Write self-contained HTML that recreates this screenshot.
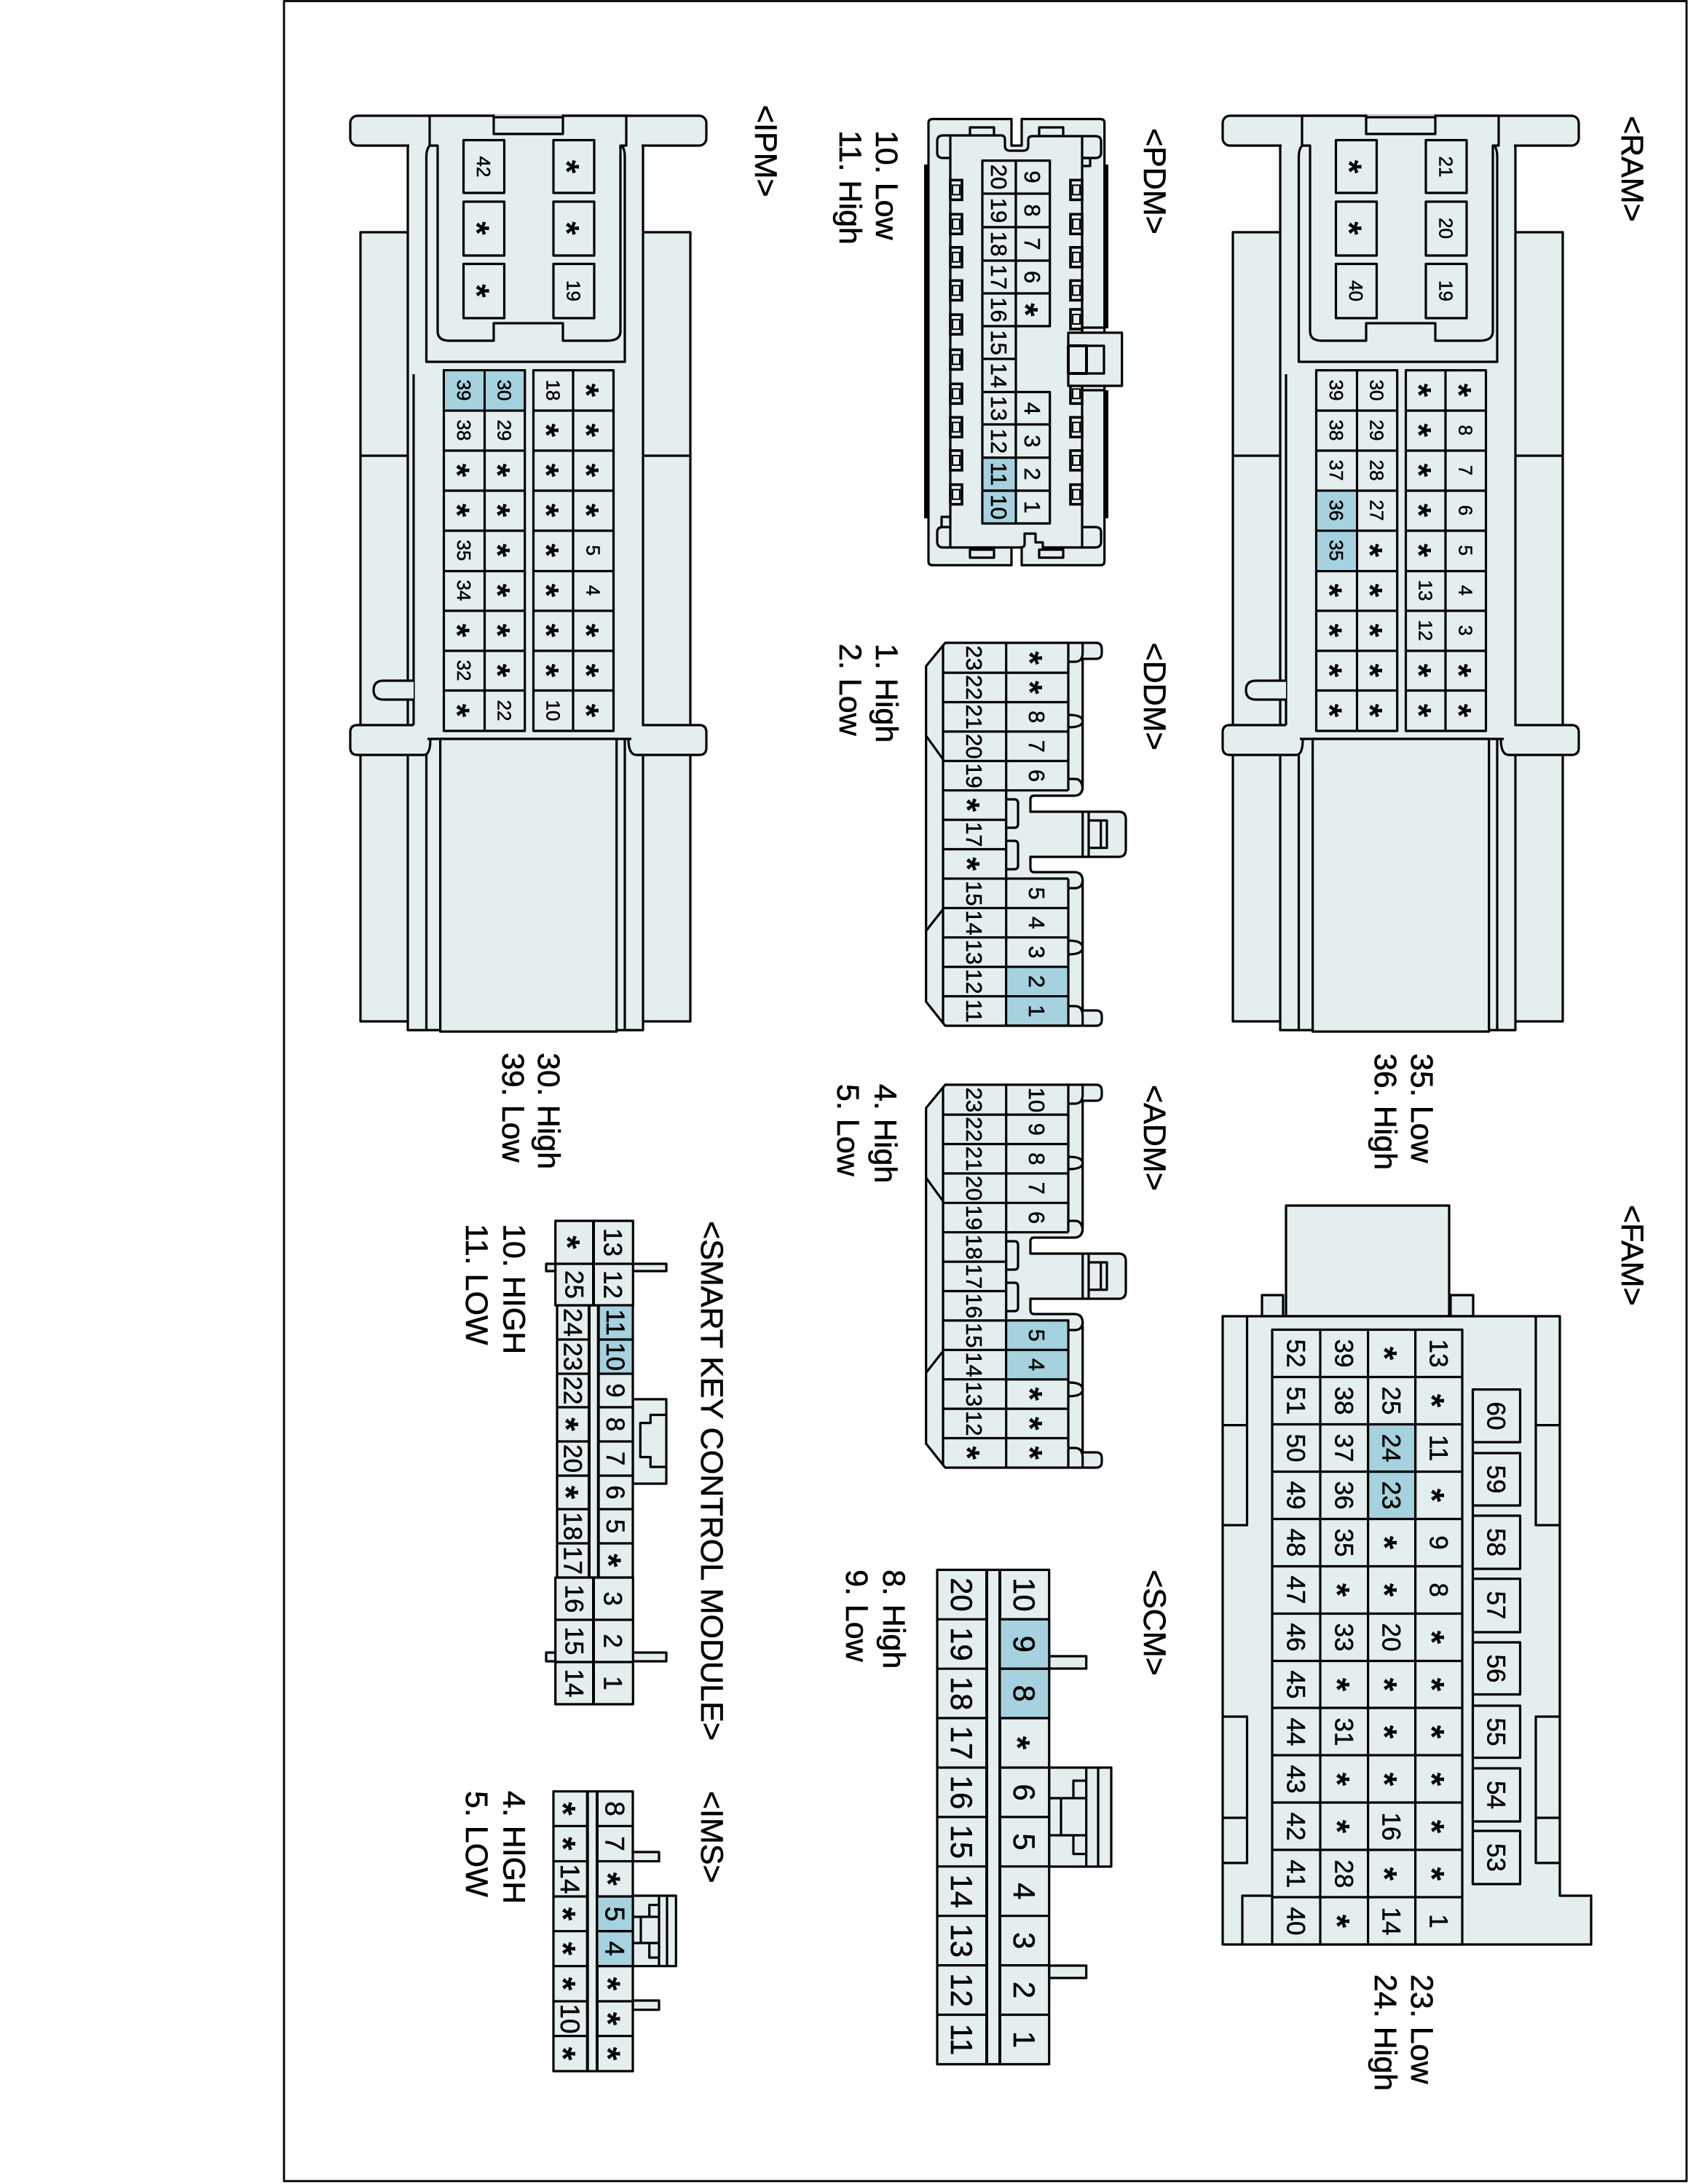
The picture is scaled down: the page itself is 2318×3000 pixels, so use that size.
<!DOCTYPE html>
<html><head><meta charset="utf-8"><title>Connector diagram</title>
<style>
html,body{margin:0;padding:0;background:#fff}
svg{display:block}
.s{fill:#e4eeef;stroke:#000;stroke-width:3.2;stroke-linejoin:round}
.l{fill:none;stroke:#000;stroke-width:3.2;stroke-linejoin:round}
.t{fill:none;stroke:#000;stroke-width:4;stroke-linejoin:round}
.n{fill:#e4eeef;stroke:none}
.hi{fill:#a5d2de;stroke:#000;stroke-width:3}
.tm{fill:#e4eeef;stroke:#000;stroke-width:3.6}
.ti{fill:#e4eeef;stroke:#000;stroke-width:2}
text{font-family:"Liberation Sans",Arial,sans-serif;fill:#000;stroke:#000;stroke-width:.5;text-anchor:middle}
.f26 text{font-size:26px}.f31 text{font-size:31px}.f35 text{font-size:35px}.f37 text{font-size:37px}.f42 text{font-size:42px}
.st text{font-size:48px;font-weight:bold;stroke:none}
.lb text{font-size:43px;text-anchor:start;stroke-width:.6}
</style></head><body>
<svg xmlns="http://www.w3.org/2000/svg" width="2318" height="3000" viewBox="0 0 2318 3000">
<defs>
<g id="h">
<rect class="s" x="1693" y="319" width="453" height="1084"/>
<path class="l" d="M1693 626H2146"/>
<rect class="s" x="1758" y="200" width="323" height="1215"/>
<rect class="s" x="1679" y="159" width="489" height="41" rx="10"/>
<rect class="n" x="1760" y="198" width="319" height="5"/>
<path class="s" d="M1788 159H2058V200H2050V455Q2050 468 2032 468H1971V444H1876V468H1815Q1799 468 1799 455V200H1788Z"/>
<path class="l" d="M1788 200Q1783.500 205 1783.500 215V497H2056V215Q2056 205 2052 200"/>
<path class="n" d="M1877.500 157.500H1969.500V183H1877.500Z"/>
<path class="l" d="M1876 159V184H1971V159M1876 161H1971"/>
<rect class="s" x="1834.500" y="192.500" width="56" height="72.500"/>
<rect class="s" x="1834.500" y="277" width="56" height="74"/>
<rect class="s" x="1834.500" y="362.500" width="56" height="74.500"/>
<rect class="s" x="1958" y="192.500" width="56" height="72.500"/>
<rect class="s" x="1958" y="277" width="56" height="74"/>
<rect class="s" x="1958" y="362.500" width="56" height="74.500"/>
<path class="l" d="M1766 514V996"/>
<path class="s" d="M1766 935H1725Q1711 935 1711 948Q1711 961 1725 961H1766"/>
<rect class="n" x="1759" y="937" width="6" height="22"/>
<rect class="n" x="1681" y="997.500" width="485" height="38" rx="8"/>
<path class="l" d="M1766 996H1689Q1679 996 1679 1006V1027Q1679 1037 1689 1037H1780Q1789 1037 1789 1015"/>
<path class="l" d="M2081 996H2158Q2168 996 2168 1006V1027Q2168 1037 2158 1037H2072Q2061 1037 2061 1015"/>
<path class="l" d="M1785 1015H2065M1783.500 1037V1415M2056 1015V1415"/>
<rect class="s" x="1802.600" y="1015" width="242.100" height="402"/>
<rect class="s" x="1807.500" y="508.600" width="111.200" height="495.400"/>
<rect class="s" x="1930.500" y="508.600" width="110" height="495.400"/>
<path class="l" d="M1863.500 508.600V1004M1985 508.600V1004M1807.500 564H1918.700M1807.500 619H1918.700M1807.500 674H1918.700M1807.500 729H1918.700M1807.500 784.500H1918.700M1807.500 839H1918.700M1807.500 894H1918.700M1807.500 948.500H1918.700M1930.500 564H2040.500M1930.500 619H2040.500M1930.500 674H2040.500M1930.500 729H2040.500M1930.500 784.500H2040.500M1930.500 839H2040.500M1930.500 894H2040.500M1930.500 948.500H2040.500"/>
</g>
<g id="d">
<path class="s" d="M1298 883H1505Q1513 883 1513 892V897Q1513 905 1505 905H1486.700V1080Q1486.700 1093 1475 1093H1420Q1415 1093 1415 1098V1115H1536Q1546 1115 1546 1125V1167Q1546 1177 1536 1177H1415V1192Q1415 1198 1420 1198H1475Q1486.700 1198 1486.700 1210V1388H1505Q1513 1388 1513 1396V1401Q1513 1409 1505 1409H1298L1271.700 1376V915Z"/>
<path class="l" d="M1295 886V1406M1381.700 884V1408M1467 884V1085.700M1467 1206.900V1408.700"/>
<path class="l" d="M1295 924.100H1467M1295 964.500H1467M1295 1004.900H1467M1295 1045.300H1467M1295 1085.700H1467M1295 1126.100H1381.700M1295 1166.500H1381.700M1295 1206.900H1467M1295 1247.300H1467M1295 1287.700H1467M1295 1328.100H1467M1295 1368.500H1467"/>
<path class="l" d="M1271.700 1010.700L1295 1043M1295 1249L1271.700 1278.600"/>
<path class="l" d="M1467 909H1476Q1486.700 909 1486.700 897M1486.700 884V897M1467 982Q1486.700 982 1486.700 990.500Q1486.700 999 1467 999M1467 1070H1476Q1486.700 1070 1486.700 1085M1467 1220H1476Q1486.700 1220 1486.700 1208M1467 1292Q1486.700 1292 1486.700 1301.500Q1486.700 1311 1467 1311M1467 1382H1476Q1486.700 1382 1486.700 1395V1409"/>
<path class="l" d="M1381.700 1098H1393Q1398 1098 1398 1103V1132Q1398 1137 1393 1137H1381.700M1381.700 1155H1393Q1398 1155 1398 1160V1189Q1398 1194 1393 1194H1381.700"/>
<path class="l" d="M1486.700 1115V1177M1495 1115V1177M1495 1127H1520V1164.600H1495M1511.700 1127V1164.600"/>
</g>
<g id="tm"><rect class="tm" x="0" y="0" width="16" height="27"/><rect class="ti" x="3" y="7" width="10" height="13"/></g>
</defs>

<rect x="390" y="1.500" width="1926" height="2994.500" fill="#fff" stroke="#000" stroke-width="2.800"/>

<!-- RAM -->
<use href="#h"/>
<rect class="hi" x="1807.500" y="674" width="56" height="55"/>
<rect class="hi" x="1807.500" y="729" width="56" height="55.500"/>
<!-- IPM -->
<use href="#h" transform="translate(-1198 0)"/>
<rect class="hi" x="609.500" y="508.600" width="56" height="55.400"/>
<rect class="hi" x="665.500" y="508.600" width="55.200" height="55.400"/>

<!-- PDM -->
<rect x="1269" y="226" width="7" height="486"/>
<rect x="1516" y="226" width="6" height="225"/>
<rect x="1516" y="536" width="6" height="176"/>
<path class="s" d="M1281 163.500H1389V200H1403V163.500H1511Q1516.700 163.500 1516.700 169V771Q1516.700 776.400 1511 776.400H1403V750H1389V776.400H1281Q1275 776.400 1275 771V169Q1275 163.500 1281 163.500Z"/>
<rect class="s" x="1332" y="175" width="33" height="12"/>
<rect class="s" x="1427" y="175" width="33" height="12"/>
<rect class="s" x="1332" y="755" width="33" height="11"/>
<rect class="s" x="1427" y="755" width="33" height="11"/>
<path class="s" d="M1295 186H1375Q1380 186 1380 192V200Q1380 207 1387 207H1405Q1412 207 1412 200V192Q1412 187 1418 187H1504Q1512 187 1512 194V210Q1512 217 1504 217H1486V724H1504Q1512 724 1512 731V744Q1512 752 1504 752H1432V745H1422V733H1407V748Q1407 752 1400 752H1295Q1287 752 1287 744V731Q1287 724 1295 724H1305V217H1295Q1287 217 1287 210V194Q1287 186 1295 186Z"/>
<path class="l" d="M1305 186V217M1486 187V217M1305 724V752M1486 724V752M1486 217H1497V228H1486M1293 724V710H1305"/>
<rect class="s" x="1349" y="220.600" width="46" height="498.400"/>
<rect class="s" x="1395" y="220.600" width="46.700" height="227.400"/>
<rect class="s" x="1395" y="538.500" width="46.700" height="180.500"/>
<rect class="hi" x="1349" y="628.600" width="46" height="45.400"/>
<rect class="hi" x="1349" y="674" width="46" height="45"/>
<path class="l" d="M1349 266H1441.700M1349 312H1441.700M1349 358H1441.700M1349 403H1441.700M1349 448H1395M1349 493H1395M1349 538.500H1395M1349 583H1441.700M1349 628.600H1441.700M1349 674H1441.700"/>
<use href="#tm" x="1305" y="247.400"/><use href="#tm" x="1305" y="294.300"/><use href="#tm" x="1305" y="339.800"/><use href="#tm" x="1305" y="385.400"/><use href="#tm" x="1305" y="432.200"/><use href="#tm" x="1305" y="480.400"/><use href="#tm" x="1305" y="527.300"/><use href="#tm" x="1305" y="573.300"/><use href="#tm" x="1305" y="618.900"/><use href="#tm" x="1305" y="665.700"/>
<use href="#tm" x="1470" y="247.400"/><use href="#tm" x="1470" y="294.300"/><use href="#tm" x="1470" y="339.800"/><use href="#tm" x="1470" y="385.400"/><use href="#tm" x="1470" y="425"/><use href="#tm" x="1470" y="527.300"/><use href="#tm" x="1470" y="573.300"/><use href="#tm" x="1470" y="618.900"/><use href="#tm" x="1470" y="665.700"/>
<path class="l" d="M1486 450H1518M1486 536H1518"/>
<rect class="s" x="1467" y="457" width="73.700" height="73"/>
<rect class="t" x="1467" y="475" width="25" height="38"/>
<rect class="l" x="1492" y="475" width="24" height="38"/>

<!-- DDM / ADM -->
<use href="#d"/>
<rect class="hi" x="1381.700" y="1328.100" width="85.300" height="40.400"/>
<rect class="hi" x="1381.700" y="1368.500" width="85.300" height="40.200"/>
<use href="#d" transform="translate(0 607)"/>
<rect class="hi" x="1381.700" y="1813.900" width="85.300" height="40.400"/>
<rect class="hi" x="1381.700" y="1854.300" width="85.300" height="40.400"/>

<!-- SCM -->
<rect class="s" x="1440.700" y="2275" width="51" height="17"/>
<rect class="s" x="1440.700" y="2700" width="51" height="17"/>
<rect class="s" x="1440.700" y="2428" width="85.300" height="136"/>
<path class="l" d="M1491.700 2428V2564M1508 2428V2564M1440.700 2470H1474V2446H1491.700M1474 2470H1491.700M1440.700 2521H1474V2546.600H1491.700M1474 2521H1491.700M1457 2470V2521"/>
<rect class="s" x="1287" y="2156.400" width="153.700" height="679.100"/>
<path class="t" d="M1355 2156.400V2835.500M1373 2156.400V2835.500"/>
<rect class="hi" x="1373" y="2224.300" width="67.700" height="67.900"/>
<rect class="hi" x="1373" y="2292.200" width="67.700" height="67.900"/>
<path class="l" d="M1287 2224.300H1355M1373 2224.300H1440.700M1287 2292.200H1355M1373 2292.200H1440.700M1287 2360H1355M1373 2360H1440.700M1287 2428H1355M1373 2428H1440.700M1287 2495.900H1355M1373 2495.900H1440.700M1287 2563.800H1355M1373 2563.800H1440.700M1287 2631.700H1355M1373 2631.700H1440.700M1287 2699.600H1355M1373 2699.600H1440.700M1287 2767.500H1355M1373 2767.500H1440.700"/>

<!-- FAM -->
<rect class="s" x="1733" y="1779" width="29" height="29"/>
<rect class="s" x="1992" y="1779" width="31" height="29"/>
<rect class="s" x="1766" y="1656" width="224" height="152"/>
<path class="s" d="M1679 1808H2142V2604H2185V2671H1679Z"/>
<path class="l" d="M1679 1957.600H1712.500M1712.500 1808V2095H1679M1679 2358H1712.500V2559H1679M1679 2497H1712.500M2142 1957.600H2109M2109 1808V2095H2142M2142 2358H2109V2559H2142M2142 2497H2109M1706 2671V2604H1747"/>
<path class="l" d="M2022.500 1908V2588"/>
<rect class="s" x="2022.500" y="1908.600" width="65" height="72.400"/>
<rect class="s" x="2022.500" y="1996" width="65" height="72"/>
<rect class="s" x="2022.500" y="2082" width="65" height="73"/>
<rect class="s" x="2022.500" y="2168.600" width="65" height="73.400"/>
<rect class="s" x="2022.500" y="2256" width="65" height="71.500"/>
<rect class="s" x="2022.500" y="2343" width="65" height="71.500"/>
<rect class="s" x="2022.500" y="2429" width="65" height="73"/>
<rect class="s" x="2022.500" y="2515" width="65" height="73"/>
<rect class="s" x="1747" y="1826.500" width="261" height="844.500"/>
<rect class="hi" x="1878.600" y="1956.500" width="65" height="65"/>
<rect class="hi" x="1878.600" y="2021.500" width="65" height="65"/>
<path class="l" d="M1813 1826.500V2671M1878.600 1826.500V2671M1943.600 1826.500V2671M1747 1891.500H2008M1747 1956.500H2008M1747 2021.500H2008M1747 2086.500H2008M1747 2151.500H2008M1747 2216.500H2008M1747 2281.500H2008M1747 2346H2008M1747 2411H2008M1747 2476H2008M1747 2541H2008M1747 2606H2008"/>

<!-- SMART KEY -->
<rect class="s" x="750" y="1736" width="13" height="10"/>
<rect class="s" x="869" y="1736" width="46" height="10"/>
<rect class="s" x="750" y="2270" width="13" height="12"/>
<rect class="s" x="869" y="2270" width="46" height="12"/>
<rect class="s" x="869" y="1922" width="46" height="116"/>
<path class="l" d="M915 1943.500H893.300V1954.600H879.300V2001.500H893.300V2015H915"/>
<rect class="s" x="765" y="1793" width="104" height="374"/>
<rect class="s" x="762.700" y="1677" width="106.600" height="116"/>
<rect class="s" x="762.700" y="2167" width="106.600" height="174"/>
<path class="t" d="M815 1677V1793M815 2167V2341"/>
<rect class="hi" x="821.700" y="1793" width="47.300" height="47"/>
<rect class="hi" x="821.700" y="1840" width="47.300" height="47"/>
<path class="t" d="M809 1793V2167M821.700 1793V2167"/>
<path class="l" d="M762.700 1736H869.300M762.700 2225H869.300M762.700 2283H869.300M765 1840H809M821.700 1840H869M765 1887H809M821.700 1887H869M765 1933H809M821.700 1933H869M765 1980H809M821.700 1980H869M765 2027H809M821.700 2027H869M765 2073H809M821.700 2073H869M765 2120H809M821.700 2120H869"/>

<!-- IMS -->
<rect class="s" x="869" y="2544" width="36" height="12.700"/>
<rect class="s" x="869" y="2748" width="36" height="12.700"/>
<rect class="s" x="869" y="2604" width="59.300" height="96.700"/>
<path class="l" d="M905 2604V2700.700M916 2604V2700.700M869 2633H891.700V2616.700H905M891.700 2633H905M869 2669H891.700V2689H905M891.700 2669H905M880 2633V2669"/>
<rect class="s" x="760" y="2460.700" width="109" height="384.300"/>
<path class="t" d="M806.700 2460.700V2845M820 2460.700V2845"/>
<rect class="hi" x="820" y="2605" width="49" height="47.700"/>
<rect class="hi" x="820" y="2652.700" width="49" height="48"/>
<path class="l" d="M760 2508.300H806.700M820 2508.300H869M760 2556.700H806.700M820 2556.700H869M760 2605H806.700M820 2605H869M760 2652.700H806.700M820 2652.700H869M760 2700.700H806.700M820 2700.700H869M760 2749H806.700M820 2749H869M760 2796.700H806.700M820 2796.700H869"/>

<!-- RAM text -->
<g class="f26">
<g transform="translate(1826.200 0)rotate(90)"><text x="536">39</text><text x="591">38</text><text x="646">37</text><text x="701">36</text><text x="756">35</text></g>
<g transform="translate(1881.700 0)rotate(90)"><text x="536">30</text><text x="591">29</text><text x="646">28</text><text x="701">27</text></g>
<g transform="translate(1948.700 0)rotate(90)"><text x="811">13</text><text x="866">12</text></g>
<g transform="translate(2003.700 0)rotate(90)"><text x="591">8</text><text x="646">7</text><text x="701">6</text><text x="756">5</text><text x="811">4</text><text x="866">3</text></g>
<g transform="translate(1853.200 0)rotate(90)"><text x="399.500">40</text></g>
<g transform="translate(1976.700 0)rotate(90)"><text x="229">21</text><text x="313.500">20</text><text x="399.500">19</text></g>
</g>
<g class="st">
<g transform="translate(1809.500 0)rotate(90)"><text x="811">*</text><text x="866">*</text><text x="921">*</text><text x="976">*</text></g>
<g transform="translate(1865 0)rotate(90)"><text x="756">*</text><text x="811">*</text><text x="866">*</text><text x="921">*</text><text x="976">*</text></g>
<g transform="translate(1932 0)rotate(90)"><text x="536">*</text><text x="591">*</text><text x="646">*</text><text x="701">*</text><text x="756">*</text><text x="921">*</text><text x="976">*</text></g>
<g transform="translate(1987 0)rotate(90)"><text x="536">*</text><text x="921">*</text><text x="976">*</text></g>
<g transform="translate(1836.500 0)rotate(90)"><text x="229">*</text><text x="313.500">*</text></g>
</g>

<!-- IPM text -->
<g class="f26">
<g transform="translate(628.200 0)rotate(90)"><text x="536">39</text><text x="591">38</text><text x="756">35</text><text x="811">34</text><text x="921">32</text></g>
<g transform="translate(683.700 0)rotate(90)"><text x="536">30</text><text x="591">29</text><text x="976">22</text></g>
<g transform="translate(750.700 0)rotate(90)"><text x="536">18</text><text x="976">10</text></g>
<g transform="translate(805.700 0)rotate(90)"><text x="756">5</text><text x="811">4</text></g>
<g transform="translate(655.200 0)rotate(90)"><text x="229">42</text></g>
<g transform="translate(778.700 0)rotate(90)"><text x="399.500">19</text></g>
</g>
<g class="st">
<g transform="translate(611.500 0)rotate(90)"><text x="646">*</text><text x="701">*</text><text x="866">*</text><text x="976">*</text></g>
<g transform="translate(667 0)rotate(90)"><text x="646">*</text><text x="701">*</text><text x="756">*</text><text x="811">*</text><text x="866">*</text><text x="921">*</text></g>
<g transform="translate(734 0)rotate(90)"><text x="591">*</text><text x="646">*</text><text x="701">*</text><text x="756">*</text><text x="811">*</text><text x="866">*</text><text x="921">*</text></g>
<g transform="translate(789 0)rotate(90)"><text x="536">*</text><text x="591">*</text><text x="646">*</text><text x="701">*</text><text x="866">*</text><text x="921">*</text><text x="976">*</text></g>
<g transform="translate(638.500 0)rotate(90)"><text x="313.500">*</text><text x="399.500">*</text></g>
<g transform="translate(762 0)rotate(90)"><text x="229">*</text><text x="313.500">*</text></g>
</g>

<!-- PDM text -->
<g class="f31">
<g transform="translate(1360.900 0)rotate(90)"><text x="243">20</text><text x="289">19</text><text x="335">18</text><text x="380.500">17</text><text x="425.500">16</text><text x="470.500">15</text><text x="515.800">14</text><text x="561">13</text><text x="606">12</text><text x="651">11</text><text x="696.500">10</text></g>
<g transform="translate(1406.900 0)rotate(90)"><text x="243">9</text><text x="289">8</text><text x="335">7</text><text x="380.500">6</text><text x="561">4</text><text x="606">3</text><text x="651">2</text><text x="696.500">1</text></g>
</g>
<g class="st"><g transform="translate(1392 0)rotate(90)"><text x="425.500">*</text></g></g>

<!-- DDM text -->
<g class="f31">
<g transform="translate(1326.900 0)rotate(90)"><text x="903.900">23</text><text x="944.300">22</text><text x="984.700">21</text><text x="1025.100">20</text><text x="1065.500">19</text><text x="1146.300">17</text><text x="1227.100">15</text><text x="1267.500">14</text><text x="1307.900">13</text><text x="1348.300">12</text><text x="1388.700">11</text></g>
<g transform="translate(1413 0)rotate(90)"><text x="984.700">8</text><text x="1025.100">7</text><text x="1065.500">6</text><text x="1227.100">5</text><text x="1267.500">4</text><text x="1307.900">3</text><text x="1348.300">2</text><text x="1388.700">1</text></g>
</g>
<g class="st">
<g transform="translate(1312 0)rotate(90)"><text x="1105.900">*</text><text x="1186.700">*</text></g>
<g transform="translate(1398 0)rotate(90)"><text x="903.900">*</text><text x="944.300">*</text></g>
</g>

<!-- ADM text -->
<g class="f31">
<g transform="translate(1326.900 0)rotate(90)"><text x="1510.900">23</text><text x="1551.300">22</text><text x="1591.700">21</text><text x="1632.100">20</text><text x="1672.500">19</text><text x="1712.900">18</text><text x="1753.300">17</text><text x="1793.700">16</text><text x="1834.100">15</text><text x="1874.500">14</text><text x="1914.900">13</text><text x="1955.300">12</text></g>
<g transform="translate(1413 0)rotate(90)"><text x="1510.900">10</text><text x="1551.300">9</text><text x="1591.700">8</text><text x="1632.100">7</text><text x="1672.500">6</text><text x="1834.100">5</text><text x="1874.500">4</text></g>
</g>
<g class="st">
<g transform="translate(1312 0)rotate(90)"><text x="1995.700">*</text></g>
<g transform="translate(1398 0)rotate(90)"><text x="1914.900">*</text><text x="1955.300">*</text><text x="1995.700">*</text></g>
</g>

<!-- SCM text -->
<g class="f42">
<g transform="translate(1306 0)rotate(90)"><text x="2190.400">20</text><text x="2258.300">19</text><text x="2326.200">18</text><text x="2394">17</text><text x="2462">16</text><text x="2529.900">15</text><text x="2597.800">14</text><text x="2665.700">13</text><text x="2733.600">12</text><text x="2801.500">11</text></g>
<g transform="translate(1392 0)rotate(90)"><text x="2190.400">10</text><text x="2258.300">9</text><text x="2326.200">8</text><text x="2462">6</text><text x="2529.900">5</text><text x="2597.800">4</text><text x="2665.700">3</text><text x="2733.600">2</text><text x="2801.500">1</text></g>
</g>
<g class="st"><g transform="translate(1381 0)rotate(90)"><text x="2394">*</text></g></g>

<!-- FAM text -->
<g class="f35">
<g transform="translate(1767.500 0)rotate(90)"><text x="1859">52</text><text x="1924">51</text><text x="1989">50</text><text x="2054">49</text><text x="2119">48</text><text x="2184">47</text><text x="2249">46</text><text x="2314">45</text><text x="2379">44</text><text x="2444">43</text><text x="2509">42</text><text x="2574">41</text><text x="2639">40</text></g>
<g transform="translate(1833.300 0)rotate(90)"><text x="1859">39</text><text x="1924">38</text><text x="1989">37</text><text x="2054">36</text><text x="2119">35</text><text x="2249">33</text><text x="2379">31</text><text x="2574">28</text></g>
<g transform="translate(1898.500 0)rotate(90)"><text x="1924">25</text><text x="1989">24</text><text x="2054">23</text><text x="2249">20</text><text x="2509">16</text><text x="2639">14</text></g>
<g transform="translate(1963.300 0)rotate(90)"><text x="1859">13</text><text x="1989">11</text><text x="2119">9</text><text x="2184">8</text><text x="2639">1</text></g>
<g transform="translate(2042.500 0)rotate(90)"><text x="1945">60</text><text x="2032">59</text><text x="2118.500">58</text><text x="2205">57</text><text x="2292">56</text><text x="2379">55</text><text x="2465.500">54</text><text x="2551.500">53</text></g>
</g>
<g class="st">
<g transform="translate(1819.800 0)rotate(90)"><text x="2184">*</text><text x="2314">*</text><text x="2444">*</text><text x="2509">*</text><text x="2639">*</text></g>
<g transform="translate(1885 0)rotate(90)"><text x="1859">*</text><text x="2119">*</text><text x="2184">*</text><text x="2314">*</text><text x="2379">*</text><text x="2444">*</text><text x="2574">*</text></g>
<g transform="translate(1949.800 0)rotate(90)"><text x="1924">*</text><text x="2054">*</text><text x="2249">*</text><text x="2314">*</text><text x="2379">*</text><text x="2444">*</text><text x="2509">*</text><text x="2574">*</text></g>
</g>

<!-- SMART KEY text -->
<g class="f35">
<g transform="translate(776.500 0)rotate(90)"><text x="1764.500">25</text><text x="2196">16</text><text x="2254">15</text><text x="2312">14</text></g>
<g transform="translate(774.500 0)rotate(90)"><text x="1816.500">24</text><text x="1863.500">23</text><text x="1910">22</text><text x="2003.500">20</text><text x="2096.500">18</text><text x="2143.500">17</text></g>
<g transform="translate(829.500 0)rotate(90)"><text x="1706.500">13</text><text x="1764.500">12</text><text x="2196">3</text><text x="2254">2</text><text x="2312">1</text></g>
<g transform="translate(833 0)rotate(90)"><text x="1816.500">11</text><text x="1863.500">10</text><text x="1910">9</text><text x="1956.500">8</text><text x="2003.500">7</text><text x="2050">6</text><text x="2096.500">5</text></g>
</g>
<g class="st">
<g transform="translate(763 0)rotate(90)"><text x="1706.500">*</text></g>
<g transform="translate(761 0)rotate(90)"><text x="1956.500">*</text><text x="2050">*</text></g>
<g transform="translate(819.500 0)rotate(90)"><text x="2143.500">*</text></g>
</g>

<!-- IMS text -->
<g class="f37">
<g transform="translate(769.800 0)rotate(90)"><text x="2581">14</text><text x="2773">10</text></g>
<g transform="translate(831.300 0)rotate(90)"><text x="2484.500">8</text><text x="2532.500">7</text><text x="2629">5</text><text x="2676.700">4</text></g>
</g>
<g class="st">
<g transform="translate(757 0)rotate(90)"><text x="2484.500">*</text><text x="2532.500">*</text><text x="2629">*</text><text x="2676.700">*</text><text x="2725">*</text><text x="2821">*</text></g>
<g transform="translate(818.500 0)rotate(90)"><text x="2581">*</text><text x="2725">*</text><text x="2773">*</text><text x="2821">*</text></g>
</g>

<!-- Labels -->
<g class="lb">
<g transform="translate(2227 0)rotate(90)"><text x="159">&lt;RAM&gt;</text><text x="1655">&lt;FAM&gt;</text></g>
<g transform="translate(1938 0)rotate(90)"><text x="1447">35. Low</text><text x="2712">23. Low</text></g>
<g transform="translate(1888 0)rotate(90)"><text x="1447">36. High</text><text x="2712">24. High</text></g>
<g transform="translate(1571 0)rotate(90)"><text x="176">&lt;PDM&gt;</text><text x="882.500">&lt;DDM&gt;</text><text x="1490">&lt;ADM&gt;</text><text x="2156">&lt;SCM&gt;</text></g>
<g transform="translate(1203 0)rotate(90)"><text x="179">10. Low</text><text x="884">1. High</text></g>
<g transform="translate(1153 0)rotate(90)"><text x="179">11. High</text><text x="884">2. Low</text></g>
<g transform="translate(1201.700 0)rotate(90)"><text x="1489">4. High</text></g>
<g transform="translate(1150 0)rotate(90)"><text x="1489">5. Low</text></g>
<g transform="translate(1213 0)rotate(90)"><text x="2156">8. High</text></g>
<g transform="translate(1162 0)rotate(90)"><text x="2156">9. Low</text></g>
<g transform="translate(1037 0)rotate(90)"><text x="144">&lt;IPM&gt;</text></g>
<g transform="translate(739 0)rotate(90)"><text x="1446">30. High</text></g>
<g transform="translate(690 0)rotate(90)"><text x="1446">39. Low</text></g>
<g transform="translate(963 0)rotate(90)"><text x="1677" textLength="714" lengthAdjust="spacingAndGlyphs">&lt;SMART KEY CONTROL MODULE&gt;</text><text x="2460">&lt;IMS&gt;</text></g>
<g transform="translate(691.700 0)rotate(90)"><text x="1681">10. HIGH</text><text x="2460">4. HIGH</text></g>
<g transform="translate(640 0)rotate(90)"><text x="1681">11. LOW</text><text x="2460">5. LOW</text></g>
</g>
</svg>
</body></html>
